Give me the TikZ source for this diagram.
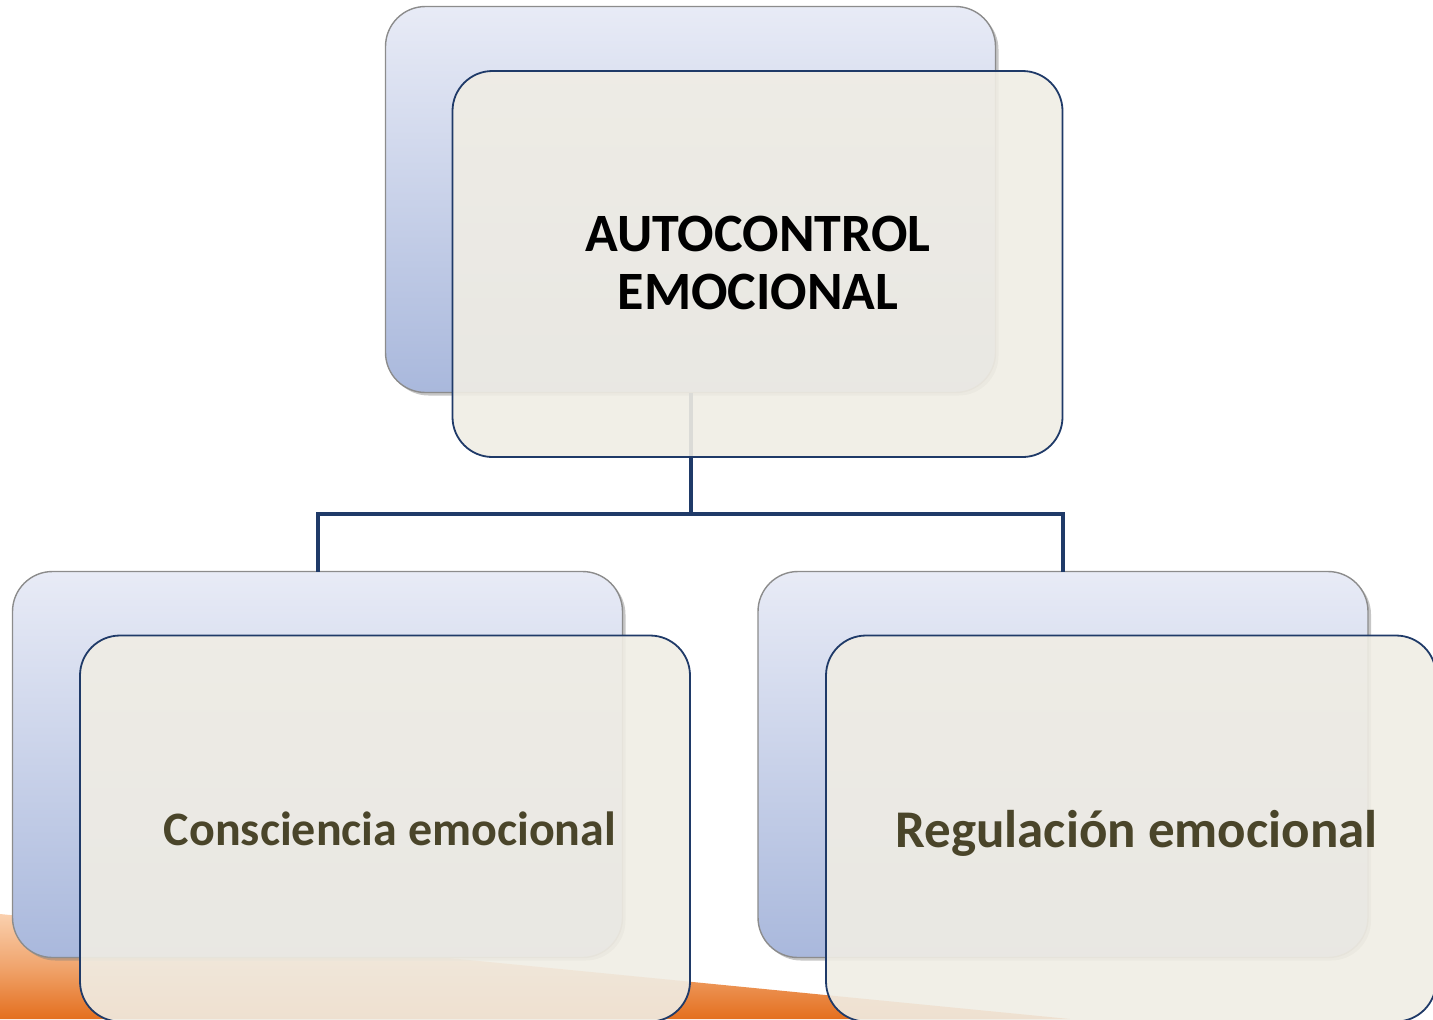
\documentclass[tikz,border=0pt]{standalone}
\usepackage{fontspec}
\setmainfont{Carlito}
\usetikzlibrary{shadows}
\definecolor{navy}{HTML}{1F3A68}
\definecolor{frontfill}{HTML}{F0EDE4}
\definecolor{backtop}{HTML}{E8EBF6}
\definecolor{backbot}{HTML}{A9B8DC}
\definecolor{olive}{HTML}{4A452A}
\definecolor{orangeA}{HTML}{E46F1E}
\definecolor{orangeB}{HTML}{FAD0AE}
\tikzset{
  backbox/.style={rectangle, rounded corners=20pt, minimum width=305pt, minimum height=193pt,
    inner sep=0pt, outer sep=0pt, draw=gray!90, line width=0.7pt, top color=backtop, bottom color=backbot,
    drop shadow={opacity=0.45, shadow xshift=1.5pt, shadow yshift=-1.5pt}},
  frontbox/.style={rectangle, rounded corners=20pt, minimum width=305pt, minimum height=193pt,
    inner sep=0pt, outer sep=0pt, draw=navy, line width=0.9pt, fill=frontfill, fill opacity=0.9},
  label text/.style={inner sep=0pt, align=center, font=\bfseries},
  conn/.style={draw=navy, line width=2pt},
}
\begin{document}
\begin{tikzpicture}[x=0.5pt,y=-0.5pt]
\useasboundingbox (0,0) rectangle (1433,1019);
\clip (0,0) rectangle (1433,1019);
% orange background
\shade[top color=orangeB, bottom color=orangeA, middle color=orangeB!55!orangeA]
  (0,914) -- (1070,1019) -- (0,1019) -- cycle;
% back boxes
\node[backbox] (tb) at (690.5,199.5) {};
\node[backbox] (lb) at (317.5,764.5) {};
\node[backbox] (rb) at (1063,764.5) {};
% connectors
\coordinate (mid) at (690.5,514);
\draw[conn] (tb.south) -- (tb.south |- mid) -| (lb.north);
\draw[conn] (tb.south |- mid) -| (rb.north);
% front boxes
\node[frontbox] (tf) at (757.5,264) {};
\node[frontbox] (lf) at (385,828.5) {};
\node[frontbox] (rf) at (1131,828.5) {};
% texts
\node[label text, text=black, font=\bfseries\fontsize{27pt}{29pt}\selectfont] (tt) at (758,263)
  {AUTOCONTROL\\EMOCIONAL};
\node[label text, text=olive, font=\bfseries\fontsize{24pt}{26pt}\selectfont, anchor=base] (lt) at (390,845)
  {Consciencia emocional};
\node[label text, text=olive, font=\bfseries\fontsize{26.5pt}{28pt}\selectfont, anchor=base] (rt) at (1136.5,847)
  {Regulación emocional};
\end{tikzpicture}
\end{document}
